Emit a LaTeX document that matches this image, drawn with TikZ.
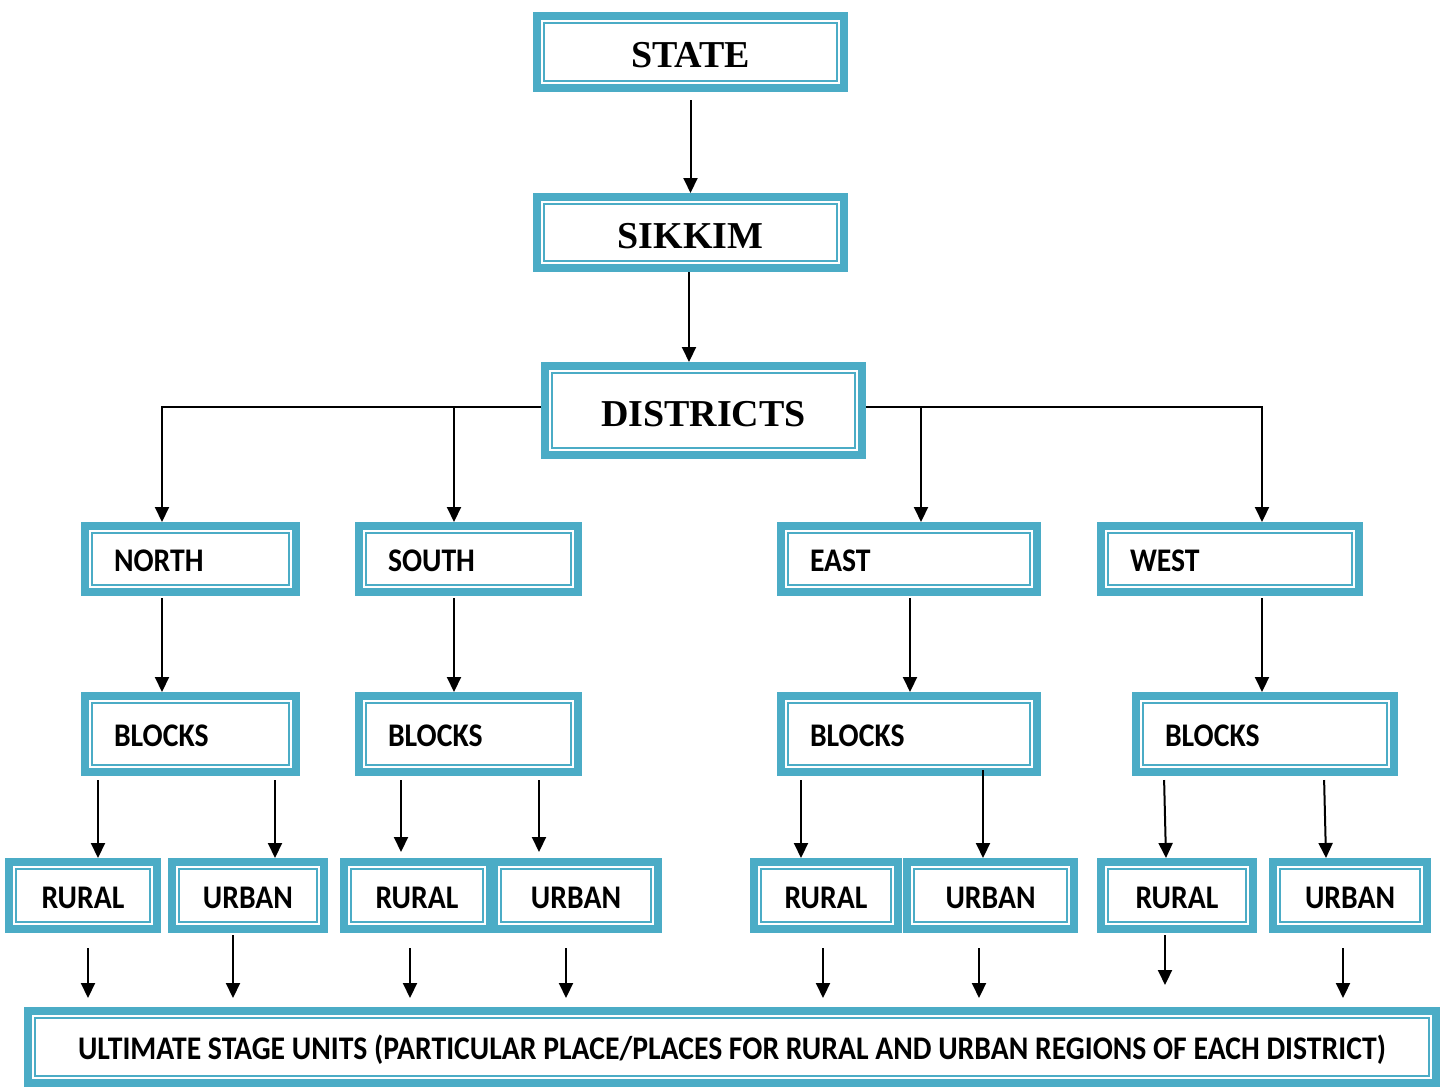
\documentclass[tikz,border=0pt]{standalone}
\usepackage{fontspec}
\setmainfont{Liberation Serif}
\setsansfont{Carlito}[FakeStretch=0.9]
\usetikzlibrary{arrows.meta}
\definecolor{azzurro}{HTML}{4BACC6}
\begin{document}
\begin{tikzpicture}[x=0.5pt,y=-0.5pt,
    scatola/.style={draw=azzurro, line width=4pt, inner sep=0pt, minimum height=#1,
      path picture={\draw[azzurro, line width=1pt]
        ([shift={(3.5pt,3.5pt)}]path picture bounding box.south west) rectangle
        ([shift={(-3.5pt,-3.5pt)}]path picture bounding box.north east);}},
    titolo/.style={font=\fontsize{19}{21}\selectfont\bfseries, text height=15.5pt, text depth=0pt},
    voce/.style={font=\sffamily\bfseries\fontsize{16.5}{19}\selectfont, text height=12.5pt, text depth=0pt},
    sinistra/.style={inner xsep=14.5pt, align=left, text width=#1},
    freccia/.style={-{Triangle[length=7.5pt,width=7pt]}, line width=1pt},
    linea/.style={line width=1pt}]
        \useasboundingbox (0,0) rectangle (1443,1087);

        %livelli alti
        \node[scatola=36pt, minimum width=153.5pt, titolo] (state) at (690.5,52) {STATE};
        \node[scatola=35.5pt, minimum width=153.5pt, titolo] (sikkim) at (690.5,232.5) {SIKKIM};
        \node[scatola=44.5pt, minimum width=158.5pt, titolo] (districts) at (703.5,410.5) {DISTRICTS};

        %distretti
        \node[scatola=33pt, voce, sinistra=76.5pt] (north) at (190.5,559) {NORTH};
        \node[scatola=33pt, voce, sinistra=80.5pt] (south) at (468.5,559) {SOUTH};
        \node[scatola=33pt, voce, sinistra=99pt] (east) at (909,559) {EAST};
        \node[scatola=33pt, voce, sinistra=100pt] (west) at (1230,559) {WEST};

        %blocchi
        \node[scatola=38pt, voce, sinistra=76.5pt] (nblocks) at (190.5,734) {BLOCKS};
        \node[scatola=38pt, voce, sinistra=80.5pt] (sblocks) at (468.5,734) {BLOCKS};
        \node[scatola=38pt, voce, sinistra=99pt] (eblocks) at (909,734) {BLOCKS};
        \node[scatola=38pt, voce, sinistra=100pt] (wblocks) at (1265,734) {BLOCKS};

        %rurale e urbano
        \node[scatola=33.5pt, voce, minimum width=74pt] (nrural) at (83,895.5) {RURAL};
        \node[scatola=33.5pt, voce, minimum width=76pt] (nurban) at (248,895.5) {URBAN};
        \node[scatola=33.5pt, voce, minimum width=73pt] (srural) at (417,895.5) {RURAL};
        \node[scatola=33.5pt, voce, minimum width=82pt] (surban) at (576,895.5) {URBAN};
        \node[scatola=33.5pt, voce, minimum width=72pt] (erural) at (826,895.5) {RURAL};
        \node[scatola=33.5pt, voce, minimum width=83.5pt] (eurban) at (990.5,895.5) {URBAN};
        \node[scatola=33.5pt, voce, minimum width=76pt] (wrural) at (1177,895.5) {RURAL};
        \node[scatola=33.5pt, voce, minimum width=77pt] (wurban) at (1350,895.5) {URBAN};

        %unita finali
        \node[scatola=36pt, voce, minimum width=704pt] (ult) at (732,1047) {ULTIMATE STAGE UNITS (PARTICULAR PLACE/PLACES FOR RURAL AND URBAN REGIONS OF EACH DISTRICT)};

        %frecce in alto
        \draw[freccia, shorten <=4pt] (state) -- (sikkim);
        \draw[freccia] ([xshift=-0.75pt]sikkim.south) -- ([xshift=-0.75pt]sikkim.south |- districts.north);
        \coordinate (ramo) at ([yshift=1.75pt]districts.west);
        \coordinate (ramod) at ([yshift=1.75pt]districts.east);
        \draw[freccia] (ramo) -| ([xshift=-14.25pt]north.north);
        \draw[freccia] ([xshift=-7.25pt]south.north |- ramo) -- ([xshift=-7.25pt]south.north);
        \draw[freccia] (ramod) -| ([xshift=16pt]west.north);
        \draw[freccia] ([xshift=6pt]east.north |- ramod) -- ([xshift=6pt]east.north);

        %distretti -> blocchi
        \draw[freccia, shorten <=1pt] ([xshift=-14.25pt]north.south) -- ([xshift=-14.25pt]nblocks.north);
        \draw[freccia, shorten <=1pt] ([xshift=-7.25pt]south.south) -- ([xshift=-7.25pt]sblocks.north);
        \draw[freccia, shorten <=1pt] ([xshift=0.5pt]east.south) -- ([xshift=0.5pt]eblocks.north);
        \draw[freccia, shorten <=1pt] ([xshift=16pt]west.south) -- ([xshift=-1.5pt]wblocks.north);

        %blocchi -> rurale/urbano
        \draw[freccia, shorten <=2pt] ([xshift=-46.25pt]nblocks.south) -- ([xshift=7.5pt]nrural.north);
        \draw[freccia, shorten <=2pt] ([xshift=42.25pt]nblocks.south) -- ([xshift=13.5pt]nurban.north);
        \draw[freccia, shorten <=2pt, shorten >=3pt] ([xshift=-33.75pt]sblocks.south) -- ([xshift=-8pt]srural.north);
        \draw[freccia, shorten <=2pt, shorten >=3pt] ([xshift=35.25pt]sblocks.south) -- ([xshift=-18.5pt]surban.north);
        \draw[freccia, shorten <=2pt] ([xshift=-54pt]eblocks.south) -- ([xshift=-12.5pt]erural.north);
        \draw[freccia, shorten <=-3pt] ([xshift=37pt]eblocks.south) -- ([xshift=-3.75pt]eurban.north);
        \draw[freccia, shorten <=2pt] ([xshift=-50.5pt]wblocks.south) -- ([xshift=-5.5pt]wrural.north);
        \draw[freccia, shorten <=2pt] ([xshift=29.5pt]wblocks.south) -- ([xshift=-12pt]wurban.north);

        %verso le unita finali
        \draw[freccia, shorten <=7.5pt, shorten >=4.5pt] ([xshift=2.5pt]nrural.south) -- ([xshift=2.5pt]nrural.south |- ult.north);
        \draw[freccia, shorten <=1pt, shorten >=4.5pt] ([xshift=-7.5pt]nurban.south) -- ([xshift=-7.5pt]nurban.south |- ult.north);
        \draw[freccia, shorten <=7.5pt, shorten >=4.5pt] ([xshift=-3.5pt]srural.south) -- ([xshift=-3.5pt]srural.south |- ult.north);
        \draw[freccia, shorten <=7.5pt, shorten >=4.5pt] ([xshift=-5pt]surban.south) -- ([xshift=-5pt]surban.south |- ult.north);
        \draw[freccia, shorten <=7.5pt, shorten >=4.5pt] ([xshift=-1.5pt]erural.south) -- ([xshift=-1.5pt]erural.south |- ult.north);
        \draw[freccia, shorten <=7.5pt, shorten >=4.5pt] ([xshift=-5.75pt]eurban.south) -- ([xshift=-5.75pt]eurban.south |- ult.north);
        \draw[freccia, shorten <=1pt, shorten >=11pt] ([xshift=-6pt]wrural.south) -- ([xshift=-6pt]wrural.south |- ult.north);
        \draw[freccia, shorten <=7.5pt, shorten >=4.5pt] ([xshift=-3.5pt]wurban.south) -- ([xshift=-3.5pt]wurban.south |- ult.north);

\end{tikzpicture}
\end{document}
